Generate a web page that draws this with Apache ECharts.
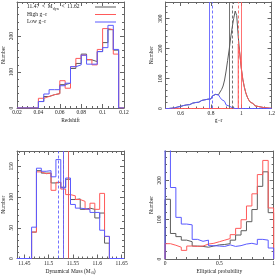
<!DOCTYPE html>
<html><head><meta charset="utf-8">
<script src="https://cdn.jsdelivr.net/npm/echarts@6/dist/echarts.min.js"></script>
<style>html,body{margin:0;padding:0;background:#fff}#c{width:278px;height:276px}</style>
</head><body><div id="c"></div>
<script>
// ---------- Data ----------
// Panel 1: Redshift histograms (bins of 0.005 starting at 0.04)
const zStart = 0.04, zStep = 0.005;
const zAll  = [18, 32, 37, 40, 65, 69, 110, 124, 150, 134, 129, 157, 182, 218, 161];
const zHigh = [27, 32, 37, 40, 76, 55, 115, 138, 147, 135, 120, 163, 221, 218, 150];
const zLow  = [18, 39, 51, 51, 62, 69, 115, 120, 147, 122, 122, 157, 168, 230, 163];

// Panel 2: g-r histograms (bins of 0.01 starting at 0.50)
const grStart = 0.50, grStep = 0.01;
const grLow = [1,0,2,1,3,2,4,5,4,7, 8,10,9,12,14,13,16,18,17,20, 22,21,25,27,26,29,28,31,33,32,
  36,42,47,41,45,40,37,30,24,18, 12,8,5,3,1,0,0,0,0,0, 0,0,0,0,0,0,0,0,0,0, 0,0,0,0,0,0,0,0,0,0];
const grAll = [1,0,2,1,3,2,4,5,4,7, 8,10,9,12,14,13,16,18,17,20, 22,21,25,27,26,29,28,31,33,32,
  36,42,47,41,46,48,55,63,75,95, 125,160,195,235,270,300,325,310,240,185,
  135,98,72,52,38,28,21,16,12,9, 7,6,5,4,3,3,2,2,1,1];
const grHigh = [0,0,0,0,0,0,0,0,0,0, 0,0,0,0,0,0,0,0,0,0, 0,0,0,0,0,0,0,0,0,0,
  0,0,0,0,0,0,0,0,0,0, 0,0,0,0,0,0,0,0,215,185,
  135,98,72,52,38,28,21,16,12,9, 7,6,5,4,3,3,2,2,1,1];

// Panel 3: Dynamical mass histograms (bins of 0.01 starting at 11.465)
const mStart = 11.465, mStep = 0.01;
const mAll  = [43, 143, 139, 139, 123, 124, 116, 129, 96, 97, 80, 82, 80, 66, 74, 25];
const mHigh = [43, 141, 138, 139, 111, 124, 113, 104, 102, 96, 93, 80, 90, 80, 106, 36];
const mLow  = [51, 147, 142, 143, 133, 161, 115, 131, 88, 82, 81, 80, 75, 75, 46, 36];

// Panel 4: Elliptical probability histograms (bins of 0.05 starting at 0)
const pStart = 0, pStep = 0.05;
const pAll  = [152, 65, 57, 48, 44, 33, 32, 30, 33, 36, 37, 39, 48, 61, 72, 95, 126, 185, 222, 118];
const pHigh = [39, 35, 30, 22, 33, 32, 33, 38, 40, 44, 48, 52, 62, 78, 100, 135, 166, 215, 251, 130];
const pLow  = [330, 182, 106, 89, 87, 50, 45, 48, 34, 33, 32, 36, 32, 34, 38, 40, 37, 50, 48, 28];

// Vertical reference lines [solid, dashed]
const grLinesAll = [0.92, 0.945], grLinesHigh = [1.0, 0.98], grLinesLow = [0.79, 0.81];
const mLinesAll = [11.536, 11.530], mLinesHigh = [11.539, 11.532], mLinesLow = [11.532, 11.524];

// Tick labels
const zTicks = [0.02, 0.04, 0.06, 0.08, 0.1, 0.12];
const grTicks = [0.6, 0.8, 1, 1.2];
const mTicks = [11.45, 11.5, 11.55, 11.6, 11.65];
const pTicks = [0, 0.5, 1];
const n1Ticks = [0, 100, 200];
const n2Ticks = [0, 100, 200, 300];
const n3Ticks = [0, 50, 100, 150];
const n4Ticks = [0, 100, 200];

// ---------- Styling / layout ----------
const FONT = 'Liberation Serif';
const C_ALL = '#5c5c5c', C_HIGH = '#ff5a5a', C_LOW = '#5a5aff';
const grids = [
  {left: 16, top: 2, width: 108, height: 106},
  {left: 165.5, top: 2, width: 108.5, height: 106.5},
  {left: 16, top: 151, width: 108, height: 108},
  {left: 165, top: 151, width: 109, height: 108}
];
const panels = [
  {x: [0.02, 0.12], xMaj: zTicks, xMinStep: 0.005, y: [0, 295], yMaj: n1Ticks, yMinStep: 20, xName: 'Redshift'},
  {x: [0.5, 1.2], xMaj: grTicks, xMinStep: 0.05, y: [0, 355], yMaj: n2Ticks, yMinStep: 20, xName: 'g\u2212r'},
  {x: [11.435, 11.655], xMaj: mTicks, xMinStep: 0.01, y: [0, 175], yMaj: n3Ticks, yMinStep: 10, xName: 'Dynamical Mass (M{sub|\u2299})'},
  {x: [0, 1], xMaj: pTicks, xMinStep: 0.1, y: [0, 275], yMaj: n4Ticks, yMinStep: 20, xName: 'Elliptical probability'}
];
function steps(lo, hi, st) {
  const out = [];
  const k0 = Math.ceil(lo / st - 1e-6), k1 = Math.floor(hi / st + 1e-6);
  for (let k = k0; k <= k1; k++) out.push(Math.round(k * st * 1e6) / 1e6);
  return out;
}
const fmt = v => String(+(+v).toFixed(4));
const xAxes = [], yAxes = [];
const axisLineStyle = {color: '#666', width: 1};
panels.forEach((p, g) => {
  const xMinor = steps(p.x[0], p.x[1], p.xMinStep);
  const yMinor = steps(p.y[0], p.y[1], p.yMinStep);
  ['bottom', 'top'].forEach(pos => {
    xAxes.push({type: 'value', gridIndex: g, position: pos, min: p.x[0], max: p.x[1],
      axisLine: {show: true, onZero: false, lineStyle: axisLineStyle},
      axisTick: {show: true, inside: true, length: 2, customValues: xMinor, lineStyle: {color: '#666'}},
      axisLabel: {show: false}, splitLine: {show: false}});
    const maj = {type: 'value', gridIndex: g, position: pos, min: p.x[0], max: p.x[1],
      axisLine: {show: false, onZero: false},
      axisTick: {show: true, inside: true, length: 4, customValues: p.xMaj, lineStyle: {color: '#666'}},
      axisLabel: {show: pos === 'bottom', customValues: p.xMaj, formatter: fmt, margin: 2,
        fontFamily: FONT, fontSize: 5.5, color: '#222'},
      splitLine: {show: false}};
    if (pos === 'bottom') {
      maj.name = p.xName; maj.nameLocation = 'middle'; maj.nameGap = 9.5;
      maj.nameTextStyle = {fontFamily: FONT, fontSize: 5.5, color: '#222',
        rich: {sub: {fontFamily: FONT, fontSize: 4, color: '#222', verticalAlign: 'bottom', padding: [3, 0, 0, 0]}}};
    }
    xAxes.push(maj);
  });
  ['left', 'right'].forEach(pos => {
    yAxes.push({type: 'value', gridIndex: g, position: pos, min: p.y[0], max: p.y[1],
      axisLine: {show: true, onZero: false, lineStyle: axisLineStyle},
      axisTick: {show: true, inside: true, length: 2, customValues: yMinor, lineStyle: {color: '#666'}},
      axisLabel: {show: false}, splitLine: {show: false}});
    const maj = {type: 'value', gridIndex: g, position: pos, min: p.y[0], max: p.y[1],
      axisLine: {show: false, onZero: false},
      axisTick: {show: true, inside: true, length: 4, customValues: p.yMaj, lineStyle: {color: '#666'}},
      axisLabel: {show: pos === 'left', customValues: p.yMaj, formatter: fmt, margin: 2, rotate: 90,
        fontFamily: FONT, fontSize: 5.5, color: '#222'},
      splitLine: {show: false}};
    if (pos === 'left') {
      maj.name = 'Number'; maj.nameLocation = 'middle'; maj.nameGap = g % 2 ? 10.5 : 10; maj.nameRotate = 90;
      maj.nameTextStyle = {fontFamily: FONT, fontSize: 5.5, color: '#222'};
    }
    yAxes.push(maj);
  });
});

function histPts(start, st, counts, xr) {
  const pts = [[xr[0], 0]];
  counts.forEach((c, i) => pts.push([Math.round((start + i * st) * 1e6) / 1e6, c]));
  pts.push([Math.round((start + counts.length * st) * 1e6) / 1e6, 0]);
  pts.push([xr[1], 0]);
  return pts;
}
function vlines(lines, color) {
  if (!lines) return undefined;
  return {silent: true, symbol: ['none', 'none'], label: {show: false},
    data: [
      {xAxis: lines[0], lineStyle: {color: color, width: 1, type: 'solid', opacity: 0.85}},
      {xAxis: lines[1], lineStyle: {color: color, width: 1, type: [3, 2], opacity: 0.85}}
    ]};
}
const series = [];
const panelData = [
  {start: zStart, st: zStep, all: zAll, high: zHigh, low: zLow},
  {start: grStart, st: grStep, all: grAll, high: grHigh, low: grLow, lAll: grLinesAll, lHigh: grLinesHigh, lLow: grLinesLow},
  {start: mStart, st: mStep, all: mAll, high: mHigh, low: mLow, lAll: mLinesAll, lHigh: mLinesHigh, lLow: mLinesLow},
  {start: pStart, st: pStep, all: pAll, high: pHigh, low: pLow}
];
panelData.forEach((d, g) => {
  const xr = panels[g].x;
  [['all', C_ALL, d.lAll], ['high', C_HIGH, d.lHigh], ['low', C_LOW, d.lLow]].forEach(([k, col, ln]) => {
    series.push({type: 'line', name: k + g, xAxisIndex: g * 4 + 1, yAxisIndex: g * 4 + 1,
      step: 'end', showSymbol: false, symbol: 'none', color: col,
      lineStyle: {color: col, width: 1}, data: histPts(d.start, d.st, d[k], xr),
      markLine: vlines(ln, col), clip: true, silent: true});
  });
});

// Legend (key) drawn inside the first panel; text pieces: [text, isSubscript]
const legendRows = [
  {parts: [['11.47  <  M', false], ['dyn', true], ['  <  11.62', false]], color: C_ALL},
  {parts: [['High g\u2212r', false]], color: C_HIGH},
  {parts: [['Low g\u2212r', false]], color: C_LOW}
];
const mctx = document.createElement('canvas').getContext('2d');
const graphic = [];
legendRows.forEach((r, i) => {
  const y = 7 + i * 7.5;
  let x = 27;
  r.parts.forEach(([t, sub]) => {
    const fs = sub ? 4 : 5.5;
    graphic.push({type: 'text', silent: true,
      style: {x: x, y: sub ? y + 1.6 : y, text: t, fontFamily: FONT, fontSize: fs, fill: '#222',
        verticalAlign: 'middle', align: 'left'}});
    mctx.font = fs + 'px "' + FONT + '"';
    x += mctx.measureText(t).width;
  });
  graphic.push({type: 'line', silent: true, shape: {x1: 95, y1: y, x2: 116, y2: y},
    style: {stroke: r.color, lineWidth: 1}});
});

const chart = echarts.init(document.getElementById('c'), null, {renderer: 'canvas'});
chart.setOption({
  animation: false,
  grid: grids,
  xAxis: xAxes,
  yAxis: yAxes,
  graphic: graphic,
  series: series
});
</script></body></html>
